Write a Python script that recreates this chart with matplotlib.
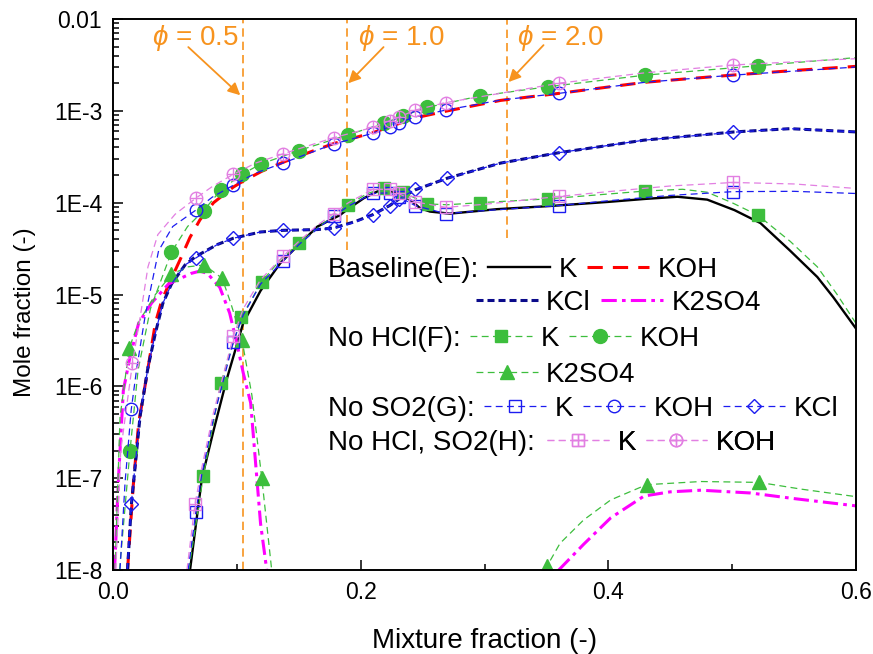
import numpy as np
import matplotlib.pyplot as plt
from matplotlib.legend_handler import HandlerTuple
from matplotlib.ticker import MultipleLocator, LogLocator, NullFormatter

plt.rcParams['font.family'] = ['Liberation Sans', 'DejaVu Sans']
plt.rcParams['mathtext.fontset'] = 'custom'
plt.rcParams['mathtext.rm'] = 'Liberation Sans'
plt.rcParams['mathtext.it'] = 'Liberation Sans:italic'

nan = np.nan

# ---- Baseline (E) ----
x_e_k = [0.062, 0.0716, 0.081, 0.0917, 0.105, 0.119, 0.135, 0.150, 0.165, 0.183, 0.1895, 0.2025,
         0.216, 0.229, 0.240, 0.248, 0.256, 0.272, 0.310, 0.353, 0.40, 0.43, 0.456, 0.48, 0.502,
         0.523, 0.547, 0.569, 0.582, 0.6]
y_e_k = [1e-8, 1e-7, 3.3e-7, 1.2e-6, 4.9e-6, 1.1e-5, 2.2e-5, 3.5e-5, 5.5e-5, 7.3e-5, 8.5e-5, 1.12e-4,
         1.38e-4, 1.3e-4, 1.07e-4, 8.7e-5, 8.0e-5, 7.6e-5, 8.5e-5, 9.2e-5, 1.02e-4, 1.1e-4, 1.16e-4,
         1.08e-4, 8.3e-5, 6.0e-5, 3.0e-5, 1.55e-5, 9.3e-6, 4.3e-6]

x_e_koh = [0.0115, 0.016, 0.0205, 0.027, 0.034, 0.039, 0.046, 0.054, 0.062, 0.070, 0.081, 0.097,
           0.105, 0.12, 0.137, 0.16, 0.178, 0.21, 0.244, 0.27, 0.313, 0.36, 0.43, 0.50, 0.55, 0.6]
y_e_koh = [1e-8, 8e-8, 4e-7, 1.3e-6, 4.9e-6, 8.5e-6, 1.4e-5, 2.4e-5, 4.2e-5, 6.5e-5, 1.0e-4, 1.48e-4,
           1.72e-4, 2.2e-4, 2.75e-4, 3.6e-4, 4.4e-4, 5.8e-4, 8.4e-4, 1.0e-3, 1.3e-3, 1.55e-3, 2.05e-3,
           2.45e-3, 2.75e-3, 3.05e-3]

x_e_kcl = [0.0115, 0.0145, 0.0216, 0.028, 0.034, 0.040, 0.047, 0.058, 0.0667, 0.084, 0.097, 0.119,
           0.137, 0.165, 0.178, 0.195, 0.2096, 0.2233, 0.2306, 0.244, 0.27, 0.313, 0.36, 0.429,
           0.502, 0.547, 0.6]
y_e_kcl = [1e-8, 5e-8, 4.7e-7, 1.6e-6, 3.8e-6, 8e-6, 1.3e-5, 2.1e-5, 2.6e-5, 3.5e-5, 4.1e-5, 4.8e-5,
           5.0e-5, 5.1e-5, 5.3e-5, 6.2e-5, 7.4e-5, 9.3e-5, 1.09e-4, 1.38e-4, 1.85e-4, 2.7e-4, 3.5e-4,
           4.8e-4, 5.9e-4, 6.4e-4, 5.9e-4]

x_e_k2so4 = [0.001, 0.004, 0.0081, 0.0135, 0.0205, 0.031, 0.0445, 0.063, 0.070, 0.076, 0.086, 0.094,
             0.100, 0.105, 0.111, 0.116, 0.119, 0.124, nan,
             0.36, 0.38, 0.402, 0.429, 0.45, 0.475, 0.515, 0.55, 0.6]
y_e_k2so4 = [1e-8, 9e-8, 9e-7, 2.1e-6, 4.9e-6, 8.1e-6, 1.3e-5, 1.7e-5, 1.8e-5, 1.7e-5, 1.2e-5, 6.3e-6,
             2.9e-6, 1.4e-6, 6.6e-7, 1.0e-7, 3.2e-8, 1e-8, nan,
             1e-8, 1.9e-8, 3.7e-8, 6.4e-8, 7.1e-8, 7.4e-8, 6.9e-8, 6.0e-8, 5.0e-8]

# ---- No HCl (F) ----
x_f_k = [0.061, 0.0727, 0.087, 0.1035, 0.12, 0.135, 0.150, 0.17, 0.19, 0.205, 0.2186, 0.234, 0.2536,
         0.27, 0.296, 0.351, 0.43, 0.46, 0.48, 0.50, 0.521, 0.547, 0.569, 0.585, 0.6]
y_f_k = [1e-8, 1.05e-7, 1.1e-6, 5.7e-6, 1.38e-5, 2.4e-5, 3.6e-5, 6.0e-5, 9.5e-5, 1.25e-4, 1.45e-4,
         1.3e-4, 9.7e-5, 9.5e-5, 1.0e-4, 1.1e-4, 1.34e-4, 1.4e-4, 1.3e-4, 1.0e-4, 7.3e-5, 3.8e-5,
         2.0e-5, 1.0e-5, 4.9e-6]
xm_f_k = [0.0727, 0.087, 0.1035, 0.12, 0.150, 0.19, 0.2186, 0.234, 0.2536, 0.296, 0.351, 0.43, 0.521]
ym_f_k = [1.05e-7, 1.1e-6, 5.7e-6, 1.38e-5, 3.6e-5, 9.5e-5, 1.45e-4, 1.3e-4, 9.7e-5, 1.0e-4, 1.1e-4,
          1.34e-4, 7.3e-5]

x_f_koh = [0.005, 0.0135, 0.02, 0.03, 0.047, 0.06, 0.073, 0.087, 0.104, 0.119, 0.150, 0.190, 0.2185,
           0.234, 0.2536, 0.296, 0.351, 0.43, 0.521, 0.6]
y_f_koh = [1e-8, 2e-7, 1.5e-6, 7e-6, 2.9e-5, 5.5e-5, 8.2e-5, 1.38e-4, 2.04e-4, 2.63e-4, 3.7e-4, 5.5e-4,
           7.3e-4, 8.8e-4, 1.09e-3, 1.45e-3, 1.83e-3, 2.45e-3, 3.1e-3, 3.8e-3]
xm_f_koh = [0.0135, 0.047, 0.073, 0.087, 0.104, 0.119, 0.150, 0.190, 0.2185, 0.234, 0.2536, 0.296,
            0.351, 0.43, 0.521]
ym_f_koh = [2e-7, 2.9e-5, 8.2e-5, 1.38e-4, 2.04e-4, 2.63e-4, 3.7e-4, 5.5e-4, 7.3e-4, 8.8e-4, 1.09e-3,
            1.45e-3, 1.83e-3, 2.45e-3, 3.1e-3]

x_f_k2so4 = [0.0014, 0.0054, 0.0128, 0.0205, 0.034, 0.047, 0.06, 0.0735, 0.088, 0.095, 0.104, 0.112,
             0.12, 0.128, nan,
             0.3484, 0.3505, 0.361, 0.380, 0.402, 0.431, 0.475, 0.522, 0.556, 0.6]
y_f_k2so4 = [1e-8, 4.6e-7, 2.6e-6, 5.0e-6, 1.0e-5, 1.66e-5, 2.0e-5, 2.1e-5, 1.5e-5, 8e-6, 3.2e-6, 8e-7,
             1e-7, 1e-8, nan,
             1e-8, 1.1e-8, 1.95e-8, 3.5e-8, 5.8e-8, 8.5e-8, 9.2e-8, 9.0e-8, 7.6e-8, 6.3e-8]
xm_f_k2so4 = [0.0128, 0.047, 0.0735, 0.088, 0.104, 0.12, 0.3505, 0.431, 0.522]
ym_f_k2so4 = [2.6e-6, 1.66e-5, 2.1e-5, 1.5e-5, 3.2e-6, 1e-7, 1.1e-8, 8.5e-8, 9.0e-8]

# ---- No SO2 (G) ----
x_g_k = [0.0605, 0.0667, 0.0715, 0.081, 0.097, 0.105, 0.119, 0.137, 0.150, 0.165, 0.178, 0.19,
         0.2096, 0.2233, 0.2306, 0.244, 0.2686, 0.30, 0.36, 0.40, 0.45, 0.501, 0.55, 0.6]
y_g_k = [1e-8, 4.3e-8, 1.1e-7, 4.5e-7, 3.05e-6, 6e-6, 1.3e-5, 2.3e-5, 3.5e-5, 5.2e-5, 7.1e-5, 9.2e-5,
         1.26e-4, 1.28e-4, 1.16e-4, 9.3e-5, 7.6e-5, 8.2e-5, 9.3e-5, 1.05e-4, 1.2e-4, 1.32e-4, 1.33e-4,
         1.26e-4]
xm_g_k = [0.0667, 0.097, 0.137, 0.178, 0.2096, 0.2233, 0.2306, 0.244, 0.2686, 0.36, 0.501]
ym_g_k = [4.3e-8, 3.05e-6, 2.3e-5, 7.1e-5, 1.26e-4, 1.28e-4, 1.16e-4, 9.3e-5, 7.6e-5, 9.3e-5, 1.32e-4]

x_g_koh = [0.0054, 0.0095, 0.0145, 0.019, 0.0256, 0.031, 0.0366, 0.048, 0.0667, 0.08, 0.097, 0.115,
           0.137, 0.178, 0.2096, 0.2233, 0.2306, 0.244, 0.2686, 0.313, 0.36, 0.43, 0.501, 0.6]
y_g_koh = [1e-8, 9e-8, 5.6e-7, 1.6e-6, 5.7e-6, 1.3e-5, 3e-5, 5.5e-5, 8.3e-5, 1.15e-4, 1.55e-4, 2.1e-4,
           2.7e-4, 4.35e-4, 5.7e-4, 6.7e-4, 7.4e-4, 8.6e-4, 1.02e-3, 1.31e-3, 1.55e-3, 2.05e-3, 2.45e-3,
           3.0e-3]
xm_g_koh = [0.0145, 0.0667, 0.097, 0.137, 0.178, 0.2096, 0.2233, 0.2306, 0.244, 0.2686, 0.36, 0.501]
ym_g_koh = [5.6e-7, 8.3e-5, 1.55e-4, 2.7e-4, 4.35e-4, 5.7e-4, 6.7e-4, 7.4e-4, 8.6e-4, 1.02e-3, 1.55e-3,
            2.45e-3]

x_g_kcl = [0.0112, 0.0145, 0.0216, 0.028, 0.034, 0.040, 0.047, 0.058, 0.0667, 0.084, 0.097, 0.119,
           0.137, 0.165, 0.178, 0.195, 0.2096, 0.2233, 0.2306, 0.244, 0.27, 0.313, 0.36, 0.429, 0.501,
           0.547, 0.6]
y_g_kcl = [1e-8, 5.2e-8, 4.8e-7, 1.6e-6, 3.8e-6, 8e-6, 1.3e-5, 2.1e-5, 2.5e-5, 3.5e-5, 4.1e-5, 4.8e-5,
           5.0e-5, 5.1e-5, 5.25e-5, 6.1e-5, 7.3e-5, 9.3e-5, 1.09e-4, 1.4e-4, 1.84e-4, 2.7e-4, 3.5e-4,
           4.8e-4, 5.85e-4, 6.4e-4, 5.9e-4]
xm_g_kcl = [0.0145, 0.0667, 0.097, 0.137, 0.178, 0.2096, 0.2233, 0.2306, 0.244, 0.27, 0.36, 0.501]
ym_g_kcl = [5.2e-8, 2.5e-5, 4.1e-5, 5.0e-5, 5.25e-5, 7.3e-5, 9.3e-5, 1.09e-4, 1.4e-4, 1.84e-4, 3.5e-4,
            5.85e-4]

# ---- No HCl, SO2 (H) ----
x_h_k = [0.0595, 0.066, 0.0715, 0.081, 0.097, 0.105, 0.119, 0.137, 0.150, 0.165, 0.178, 0.19, 0.2096,
         0.2233, 0.2306, 0.244, 0.2686, 0.30, 0.36, 0.40, 0.45, 0.501, 0.55, 0.6]
y_h_k = [1e-8, 5.2e-8, 1.3e-7, 5.2e-7, 3.5e-6, 7e-6, 1.45e-5, 2.6e-5, 3.8e-5, 5.7e-5, 7.6e-5, 1.0e-4,
         1.4e-4, 1.4e-4, 1.26e-4, 1.02e-4, 8.9e-5, 9.6e-5, 1.17e-4, 1.32e-4, 1.52e-4, 1.66e-4, 1.6e-4,
         1.43e-4]
xm_h_k = [0.066, 0.097, 0.137, 0.178, 0.2096, 0.2233, 0.2306, 0.244, 0.2686, 0.36, 0.501]
ym_h_k = [5.2e-8, 3.5e-6, 2.6e-5, 7.6e-5, 1.4e-4, 1.4e-4, 1.26e-4, 1.02e-4, 8.9e-5, 1.17e-4, 1.66e-4]

x_h_koh = [0.002, 0.006, 0.0155, 0.022, 0.028, 0.036, 0.05, 0.0667, 0.08, 0.097, 0.115, 0.137, 0.178,
           0.2096, 0.2233, 0.2306, 0.244, 0.2686, 0.30, 0.36, 0.43, 0.501, 0.6]
y_h_koh = [1e-8, 2e-7, 1.8e-6, 6e-6, 2e-5, 4.5e-5, 7.5e-5, 1.12e-4, 1.5e-4, 2.04e-4, 2.7e-4, 3.4e-4,
           5.1e-4, 6.6e-4, 7.8e-4, 8.5e-4, 1.02e-3, 1.23e-3, 1.45e-3, 2.0e-3, 2.6e-3, 3.16e-3, 3.7e-3]
xm_h_koh = [0.0155, 0.0667, 0.097, 0.137, 0.178, 0.2096, 0.2233, 0.2306, 0.244, 0.2686, 0.36, 0.501]
ym_h_koh = [1.8e-6, 1.12e-4, 2.04e-4, 3.4e-4, 5.1e-4, 6.6e-4, 7.8e-4, 8.5e-4, 1.02e-3, 1.23e-3, 2.0e-3,
            3.16e-3]

# equivalence ratio markers
phi_x = [0.105, 0.189, 0.318]
phi_labels = ['0.5', '1.0', '2.0']

xtick_vals = [0.0, 0.2, 0.4, 0.6]
xtick_labels = ['0.0', '0.2', '0.4', '0.6']
ytick_vals = [1e-8, 1e-7, 1e-6, 1e-5, 1e-4, 1e-3, 1e-2]
ytick_labels = ['1E-8', '1E-7', '1E-6', '1E-5', '1E-4', '1E-3', '0.01']

GREEN = '#3DBE3D'
BLUE = '#1C1CF0'
PINK = '#E27FE2'
NAVY = '#0A0A8A'
ORANGE = '#F7931E'
thin = (5.5, 3.5)

fig = plt.figure(figsize=(8.73, 6.54), dpi=100)
ax = fig.add_axes([0.1298, 0.1284, 0.8504, 0.8425])

# orange equivalence ratio lines
ax.axvline(phi_x[0], color=ORANGE, lw=1.2, dashes=(5, 3), zorder=1)
ax.axvline(phi_x[1], ymin=0.581, color=ORANGE, lw=1.2, dashes=(5, 3), zorder=1)
ax.axvline(phi_x[2], ymin=0.6025, color=ORANGE, lw=1.2, dashes=(5, 3), zorder=1)

# baseline
e_k, = ax.plot(x_e_k, y_e_k, color='black', lw=1.7)
e_koh, = ax.plot(x_e_koh, y_e_koh, color='red', lw=2.2, dashes=(5, 3.3))
e_kcl, = ax.plot(x_e_kcl, y_e_kcl, color=NAVY, lw=2.2, dashes=(2.3, 1.3))
e_k2so4, = ax.plot(x_e_k2so4, y_e_k2so4, color='magenta', lw=2.2, dashes=(5, 1.7, 1.2, 1.7))

# no HCl
f_k, = ax.plot(x_f_k, y_f_k, color=GREEN, lw=0.9, dashes=thin)
f_k_m, = ax.plot(xm_f_k, ym_f_k, ls='none', marker='s', ms=8.5, color=GREEN)
f_koh, = ax.plot(x_f_koh, y_f_koh, color=GREEN, lw=0.9, dashes=thin)
f_koh_m, = ax.plot(xm_f_koh, ym_f_koh, ls='none', marker='o', ms=10, color=GREEN)
f_k2so4, = ax.plot(x_f_k2so4, y_f_k2so4, color=GREEN, lw=0.9, dashes=thin)
f_k2so4_m, = ax.plot(xm_f_k2so4, ym_f_k2so4, ls='none', marker='^', ms=9.5, color=GREEN)

# no SO2
g_k, = ax.plot(x_g_k, y_g_k, color=BLUE, lw=0.9, dashes=thin)
g_k_m, = ax.plot(xm_g_k, ym_g_k, ls='none', marker='s', ms=8, mfc='none', mec=BLUE, mew=1.0)
g_koh, = ax.plot(x_g_koh, y_g_koh, color=BLUE, lw=0.9, dashes=thin)
g_koh_m, = ax.plot(xm_g_koh, ym_g_koh, ls='none', marker='o', ms=9, mfc='none', mec=BLUE, mew=1.0)
g_kcl, = ax.plot(x_g_kcl, y_g_kcl, color=BLUE, lw=0.9, dashes=thin)
g_kcl_m, = ax.plot(xm_g_kcl, ym_g_kcl, ls='none', marker='D', ms=7, mfc='none', mec=BLUE, mew=1.0)

# no HCl, SO2
h_k, = ax.plot(x_h_k, y_h_k, color=PINK, lw=0.9, dashes=thin)
h_k_m, = ax.plot(xm_h_k, ym_h_k, ls='none', marker='s', ms=8, mfc='none', mec=PINK, mew=1.0)
h_k_p, = ax.plot(xm_h_k, ym_h_k, ls='none', marker='+', ms=8, mec=PINK, mew=1.0)
h_koh, = ax.plot(x_h_koh, y_h_koh, color=PINK, lw=0.9, dashes=thin)
h_koh_m, = ax.plot(xm_h_koh, ym_h_koh, ls='none', marker='o', ms=9, mfc='none', mec=PINK, mew=1.0)
h_koh_p, = ax.plot(xm_h_koh, ym_h_koh, ls='none', marker='+', ms=9, mec=PINK, mew=1.0)

ax.set_yscale('log')
ax.set_xlim(0, 0.6)
ax.set_ylim(1e-8, 1e-2)
ax.set_xticks(xtick_vals, xtick_labels)
ax.set_yticks(ytick_vals, ytick_labels)
ax.xaxis.set_minor_locator(MultipleLocator(0.1))
ax.yaxis.set_minor_locator(LogLocator(base=10, subs=np.arange(2, 10)))
ax.yaxis.set_minor_formatter(NullFormatter())
ax.tick_params(which='both', direction='in', top=False, right=False, labelsize=16.5, width=1.1)
ax.tick_params(which='major', length=7.5, pad=8)
ax.tick_params(which='minor', length=4.5)
for s in ax.spines.values():
    s.set_linewidth(1.4)

ax.set_xlabel('Mixture fraction (-)', fontsize=20, labelpad=17)
ax.set_ylabel('Mole fraction (-)', fontsize=17.5)
ax.yaxis.set_label_coords(-0.104, 0.468)

# phi annotations
phi_text_x = [0.0313, 0.198, 0.3264]
arrow_from = [(0.0606, 4.95e-3), (0.2184, 4.95e-3), (0.3477, 5.2e-3)]
arrow_to = [(0.1026, 1.48e-3), (0.1899, 2.0e-3), (0.3194, 2.06e-3)]
for tx, lab, a0, a1 in zip(phi_text_x, phi_labels, arrow_from, arrow_to):
    ax.text(tx, 5.2e-3, r'$\phi$ = ' + lab, color=ORANGE, fontsize=20, va='baseline')
    ax.annotate('', xy=a1, xytext=a0,
                arrowprops=dict(arrowstyle='-|>', color=ORANGE, lw=1.3, mutation_scale=18,
                                shrinkA=0, shrinkB=0))

# legend, built row by row
def legend_row(handles, labels, x, y):
    leg = ax.legend(handles, labels, loc='center left', bbox_to_anchor=(x, y), ncol=len(handles),
                    frameon=False, fontsize=20, handlelength=2.23, handletextpad=0.31,
                    columnspacing=0.35, borderpad=0, borderaxespad=0,
                    handler_map={tuple: HandlerTuple(ndivide=1)})
    ax.add_artist(leg)

group_x = 0.2888
rows_y = [0.5445, 0.4846, 0.4192, 0.3539, 0.2922, 0.2305]
for lab, y in zip(['Baseline(E):', 'No HCl(F):', 'No SO2(G):', 'No HCl, SO2(H):'],
                  [rows_y[0], rows_y[2], rows_y[4], rows_y[5]]):
    ax.text(group_x, y, lab, transform=ax.transAxes, fontsize=20, va='center')

legend_row([e_k, e_koh], ['K', 'KOH'], 0.5047, rows_y[0])
legend_row([e_kcl, e_k2so4], ['KCl', 'K2SO4'], 0.4881, rows_y[1])
legend_row([(f_k, f_k_m), (f_koh, f_koh_m)], ['K', 'KOH'], 0.4805, rows_y[2])
legend_row([(f_k2so4, f_k2so4_m)], ['K2SO4'], 0.4881, rows_y[3])
legend_row([(g_k, g_k_m), (g_koh, g_koh_m), (g_kcl, g_kcl_m)], ['K', 'KOH', 'KCl'], 0.4993, rows_y[4])
legend_row([(h_k, h_k_m, h_k_p), (h_koh, h_koh_m, h_koh_p)], ['K', 'KOH'], 0.5838, rows_y[5])

fig.savefig('out.png', dpi=100)
